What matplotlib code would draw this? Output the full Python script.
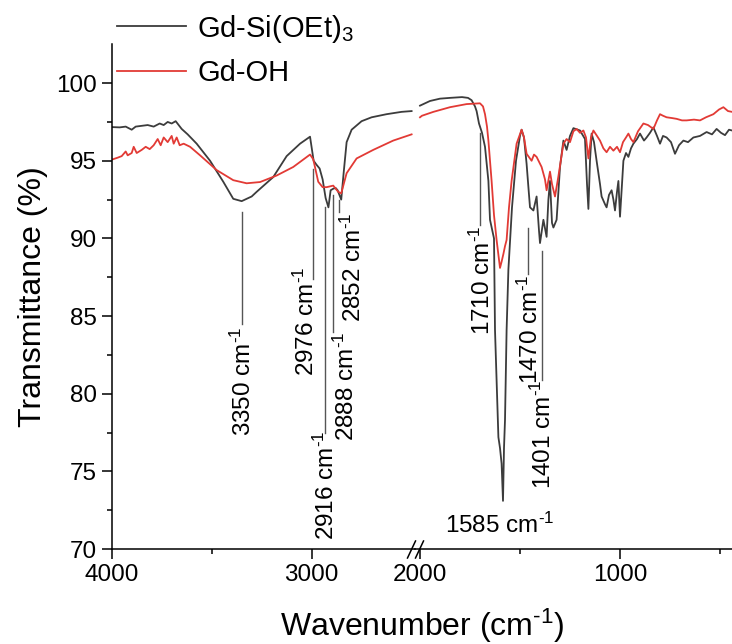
import numpy as np
import matplotlib
matplotlib.use("Agg")
import matplotlib.pyplot as plt
from matplotlib.lines import Line2D

plt.rcParams["font.family"] = ["Liberation Sans", "DejaVu Sans"]
plt.rcParams["mathtext.fontset"] = "custom"
plt.rcParams["mathtext.rm"] = "Liberation Sans"
plt.rcParams["mathtext.it"] = "Liberation Sans:italic"
plt.rcParams["mathtext.default"] = "regular"

# --- spectra (wavenumber in cm-1, transmittance in %) ---
gray_hi_x = [4000, 3960, 3930, 3900, 3880, 3850, 3820, 3790, 3760, 3740, 3720, 3700,
             3680, 3665, 3650, 3620, 3575, 3508, 3442, 3392, 3350, 3300, 3275, 3192,
             3125, 3058, 3008, 2990, 2976, 2960, 2945, 2930, 2916, 2905, 2892, 2880,
             2870, 2852, 2840, 2825, 2800, 2750, 2700, 2625, 2550, 2500]
gray_hi_y = [97.17, 97.15, 97.2, 97.0, 97.2, 97.25, 97.3, 97.2, 97.4, 97.3, 97.5, 97.4,
             97.55, 97.3, 97.05, 96.7, 96.1, 95.0, 93.65, 92.55, 92.4, 92.7, 93.0, 93.95,
             95.3, 96.1, 96.55, 95.0, 94.75, 94.5, 93.8, 92.6, 92.0, 93.1, 93.2, 93.25,
             93.1, 92.5, 94.2, 96.2, 97.0, 97.55, 97.8, 98.0, 98.15, 98.2]

red_hi_x = [4000, 3970, 3950, 3930, 3920, 3900, 3890, 3875, 3850, 3830, 3810, 3790,
            3770, 3755, 3740, 3720, 3700, 3690, 3675, 3660, 3640, 3608, 3558, 3475,
            3392, 3325, 3258, 3175, 3092, 3008, 2992, 2967, 2945, 2925, 2892, 2867,
            2852, 2825, 2775, 2692, 2592, 2500]
red_hi_y = [95.07, 95.2, 95.3, 95.6, 95.35, 95.5, 95.9, 95.5, 95.7, 95.9, 95.75, 96.0,
            96.4, 96.0, 96.5, 96.2, 96.6, 96.1, 96.5, 96.0, 96.1, 95.9, 95.35, 94.4,
            93.75, 93.55, 93.63, 94.05, 94.6, 95.4, 95.1, 93.65, 93.3, 93.3, 93.4, 93.0,
            92.9, 94.2, 95.15, 95.7, 96.3, 96.7]

gray_lo_x = [2000, 1950, 1900, 1850, 1790, 1760, 1742, 1725, 1717, 1705, 1690, 1675,
             1658, 1650, 1640, 1630, 1625, 1608, 1600, 1592, 1585, 1580, 1575, 1567,
             1558, 1540, 1520, 1500, 1492, 1480, 1467, 1458, 1450, 1433, 1417, 1405,
             1400, 1383, 1367, 1358, 1350, 1340, 1333, 1317, 1300, 1283, 1267, 1250,
             1233, 1200, 1175, 1165, 1158, 1150, 1142, 1130, 1117, 1100, 1092, 1075,
             1067, 1055, 1042, 1033, 1025, 1015, 1008, 1000, 990, 983, 970, 958,
             945, 933, 915, 900, 880, 867, 850, 833, 815, 800, 785, 767,
             745, 725, 705, 683, 660, 633, 600, 567, 540, 517, 495, 475, 455, 440]
gray_lo_y = [98.55, 98.85, 99.0, 99.05, 99.1, 99.05, 98.9, 98.5, 98.2, 97.4, 96.8, 95.9,
             93.7, 91.2, 90.6, 90.0, 84.1, 77.2, 76.5, 75.5, 73.1, 76.5, 78.3, 84.1,
             88.0, 92.0, 95.0, 96.6, 97.0, 96.5, 94.8, 93.3, 92.0, 91.8, 92.7, 90.5,
             89.7, 91.2, 90.1, 92.5, 93.7, 91.0, 90.7, 91.2, 94.6, 96.3, 95.7, 96.6,
             97.1, 96.95, 96.4, 93.5, 91.9, 95.0, 96.75, 96.2, 95.0, 93.5, 92.7, 92.2,
             92.0, 92.8, 93.1, 92.5, 91.8, 93.0, 93.7, 91.4, 93.5, 95.0, 95.5, 95.25,
             95.8, 96.1, 96.4, 96.75, 96.3, 96.5, 96.8, 97.15, 96.6, 96.1, 96.6, 96.5,
             96.2, 95.45, 96.0, 96.3, 96.2, 96.5, 96.6, 96.85, 96.7, 97.05, 96.8, 96.65, 97.0, 96.95]

red_lo_x = [2000, 1990, 1933, 1850, 1767, 1700, 1685, 1675, 1665, 1658, 1642, 1630,
            1617, 1600, 1592, 1583, 1575, 1567, 1555, 1542, 1517, 1492, 1480, 1467,
            1442, 1430, 1417, 1392, 1375, 1367, 1350, 1340, 1325, 1308, 1283, 1267,
            1250, 1233, 1217, 1200, 1183, 1170, 1158, 1145, 1133, 1115, 1100, 1083,
            1067, 1050, 1033, 1015, 1000, 985, 970, 958, 945, 933, 910, 883,
            860, 833, 815, 800, 785, 767, 740, 717, 690, 667, 630, 600,
            570, 533, 505, 483, 460, 440]
red_lo_y = [97.8, 97.9, 98.15, 98.45, 98.65, 98.7, 98.5, 98.0, 97.2, 96.3, 93.7, 91.5,
            89.9, 88.1, 88.5, 89.0, 89.5, 89.9, 92.0, 93.7, 96.1, 97.0, 96.5, 95.45,
            95.0, 95.4, 95.25, 94.6, 93.8, 93.1, 94.3, 93.5, 92.7, 94.0, 96.1, 96.4,
            96.2, 96.9, 97.05, 96.8, 96.95, 96.5, 95.15, 96.5, 96.95, 96.6, 96.3, 95.8,
            95.55, 95.9, 95.65, 95.9, 95.55, 96.2, 96.5, 96.75, 96.4, 96.2, 96.9, 97.4,
            97.3, 97.05, 97.6, 98.0, 97.9, 97.8, 97.75, 97.7, 97.6, 97.6, 97.65, 97.6,
            97.8, 98.0, 98.3, 98.45, 98.2, 98.15]

# --- peak annotations: vertical rotated labels with leader lines ---
peak_labels = ["3350", "2976", "2916", "2888", "2852", "1710", "1470", "1401"]
line_x = [3350, 2992, 2933, 2892, 2862, 1700, 1458, 1392]
line_top = [91.7, 94.5, 92.0, 92.8, 92.45, 96.8, 90.7, 89.2]
line_bottom = [84.5, 87.4, 77.45, 84.0, 91.7, 90.85, 87.7, 80.9]
text_x = [3342, 3025, 2925, 2825, 2792, 1688, 1446, 1383]
text_top = [84.3, 88.2, 77.6, 84.0, 91.7, 90.85, 87.7, 80.9]
# horizontal label under the strongest band
main_peak, main_peak_x, main_peak_y = "1585", 1600, 71.55

GRAY = "#3c3c3c"
RED = "#e23a35"
LEAD = "#555555"
UNIT = r"cm$^{\text{-1}}$"

W, H = 732, 644
fig = plt.figure(figsize=(W / 100, H / 100), dpi=100)
x0, xbrk, x1 = 111.7, 415.0, 732.0
ytop, ybot = 44.3, 549.0
axL = fig.add_axes([x0 / W, 1 - ybot / H, (xbrk - x0) / W, (ybot - ytop) / H])
axR = fig.add_axes([xbrk / W, 1 - ybot / H, (x1 - xbrk) / W, (ybot - ytop) / H])

axL.plot(gray_hi_x, gray_hi_y, color=GRAY, lw=1.3)
axL.plot(red_hi_x, red_hi_y, color=RED, lw=1.3)
axR.plot(gray_lo_x, gray_lo_y, color=GRAY, lw=1.3)
axR.plot(red_lo_x, red_lo_y, color=RED, lw=1.3)

axL.set_xlim(4000, 2483)
axR.set_xlim(2025, 440)
for ax in (axL, axR):
    ax.set_ylim(70, 102.5)
    ax.spines["top"].set_visible(False)
    ax.spines["right"].set_visible(False)
    ax.patch.set_alpha(0)
    for s in ax.spines.values():
        s.set_linewidth(1.1)
    ax.tick_params(which="major", direction="out", length=7, width=1.1, labelsize=17.5)
    ax.tick_params(which="minor", direction="out", length=3.5, width=1.1)
axR.spines["left"].set_visible(False)
axR.tick_params(axis="y", which="both", left=False, labelleft=False)

axL.set_xticks([4000, 3000])
axL.set_xticks([3500], minor=True)
axR.set_xticks([2000, 1000])
axR.set_xticks([1500, 500], minor=True)
axL.set_yticks(np.arange(70, 101, 5))
axL.set_yticks(np.arange(72.5, 101, 5), minor=True)

axL.set_ylabel("Transmittance (%)", fontsize=23, labelpad=6)
fig.text((x0 + x1) / 2 / W, 1 - 626 / H, "Wavenumber (" + UNIT + ")", fontsize=23,
         ha="center", va="center")

# leader lines and labels
for lab, lx, lt, lb, tx, tt in zip(peak_labels, line_x, line_top, line_bottom, text_x, text_top):
    ax = axL if lx > 2200 else axR
    ax.plot([lx, lx], [lt, lb], color=LEAD, lw=1.0)
    ax.text(tx, tt, f"{lab} " + UNIT, rotation=90, ha="center", va="top", fontsize=17.5)
axR.text(main_peak_x, main_peak_y, f"{main_peak} " + UNIT, ha="center", va="center",
         fontsize=17.5)

# axis break marks
for bx in (411.5, 419.5):
    fig.add_artist(Line2D([(bx - 4) / W, (bx + 4) / W], [1 - 558 / H, 1 - 541 / H],
                          transform=fig.transFigure, color="black", lw=1.1))

# legend
handles = [Line2D([], [], color=GRAY, lw=1.3), Line2D([], [], color=RED, lw=1.3)]
fig.legend(handles, ["Gd-Si(OEt)$_3$", "Gd-OH"], loc="center left",
           bbox_to_anchor=(117 / W, 1 - 50 / H), frameon=False, fontsize=21,
           handlelength=2.35, handletextpad=0.4, labelspacing=0.5,
           borderpad=0, borderaxespad=0)

fig.savefig("out.png", dpi=100, facecolor="white")
